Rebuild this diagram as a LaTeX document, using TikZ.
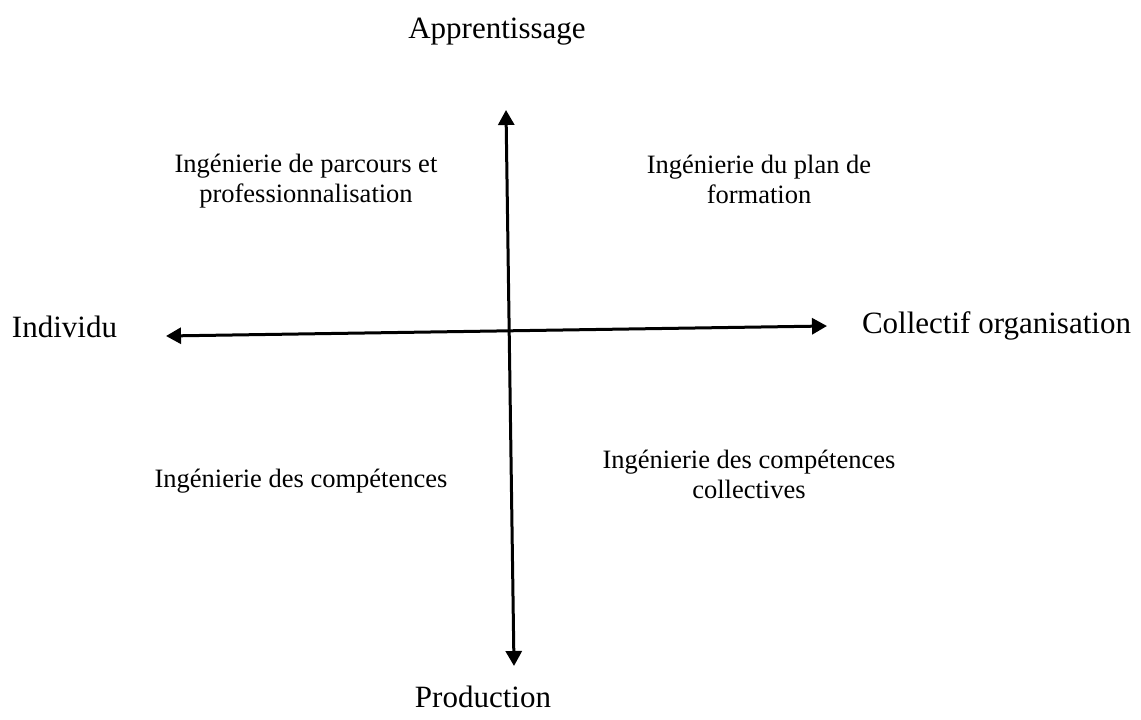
\documentclass[tikz,border=0pt]{standalone}
\usepackage{fontspec}
\setmainfont{Liberation Serif}
\usetikzlibrary{arrows.meta}

\begin{document}
\begin{tikzpicture}[x=1pt,y=-1pt,
    axe/.style={{Triangle[length=15pt,width=16pt]}-{Triangle[length=15pt,width=16pt]},line width=3pt},
    pole/.style={anchor=base,inner sep=0pt,font=\fontsize{31}{36}\selectfont},
    zone/.style={anchor=base,inner sep=0pt,align=center,font=\fontsize{26.5}{30}\selectfont}]
    \useasboundingbox (0,0) rectangle (1141,720);
    % extremites des deux axes
    \coordinate (Haut) at (506,110);
    \coordinate (Bas) at (514,666);
    \coordinate (Gauche) at (166,336);
    \coordinate (Droite) at (827,326);
    \draw[axe] (Bas) -- (Haut);
    \draw[axe] (Gauche) -- (Droite);
    % poles
    \node[pole](Apprentissage)at(497, 38){Apprentissage};
    \node[pole](Production)at(483, 707){Production};
    \node[pole](Individu)at(64.5, 337){Individu};
    \node[pole](Collectif)at(996.5, 333){Collectif organisation};
    % quadrants (base = derniere ligne)
    \node[zone](Parcours)at(306, 202){Ingénierie de parcours et\\professionnalisation};
    \node[zone](Plan)at(759, 203){Ingénierie du plan de\\formation};
    \node[zone](Competences)at(301, 487){Ingénierie des compétences};
    \node[zone](Collectives)at(749, 498){Ingénierie des compétences\\collectives};
\end{tikzpicture}
\end{document}
